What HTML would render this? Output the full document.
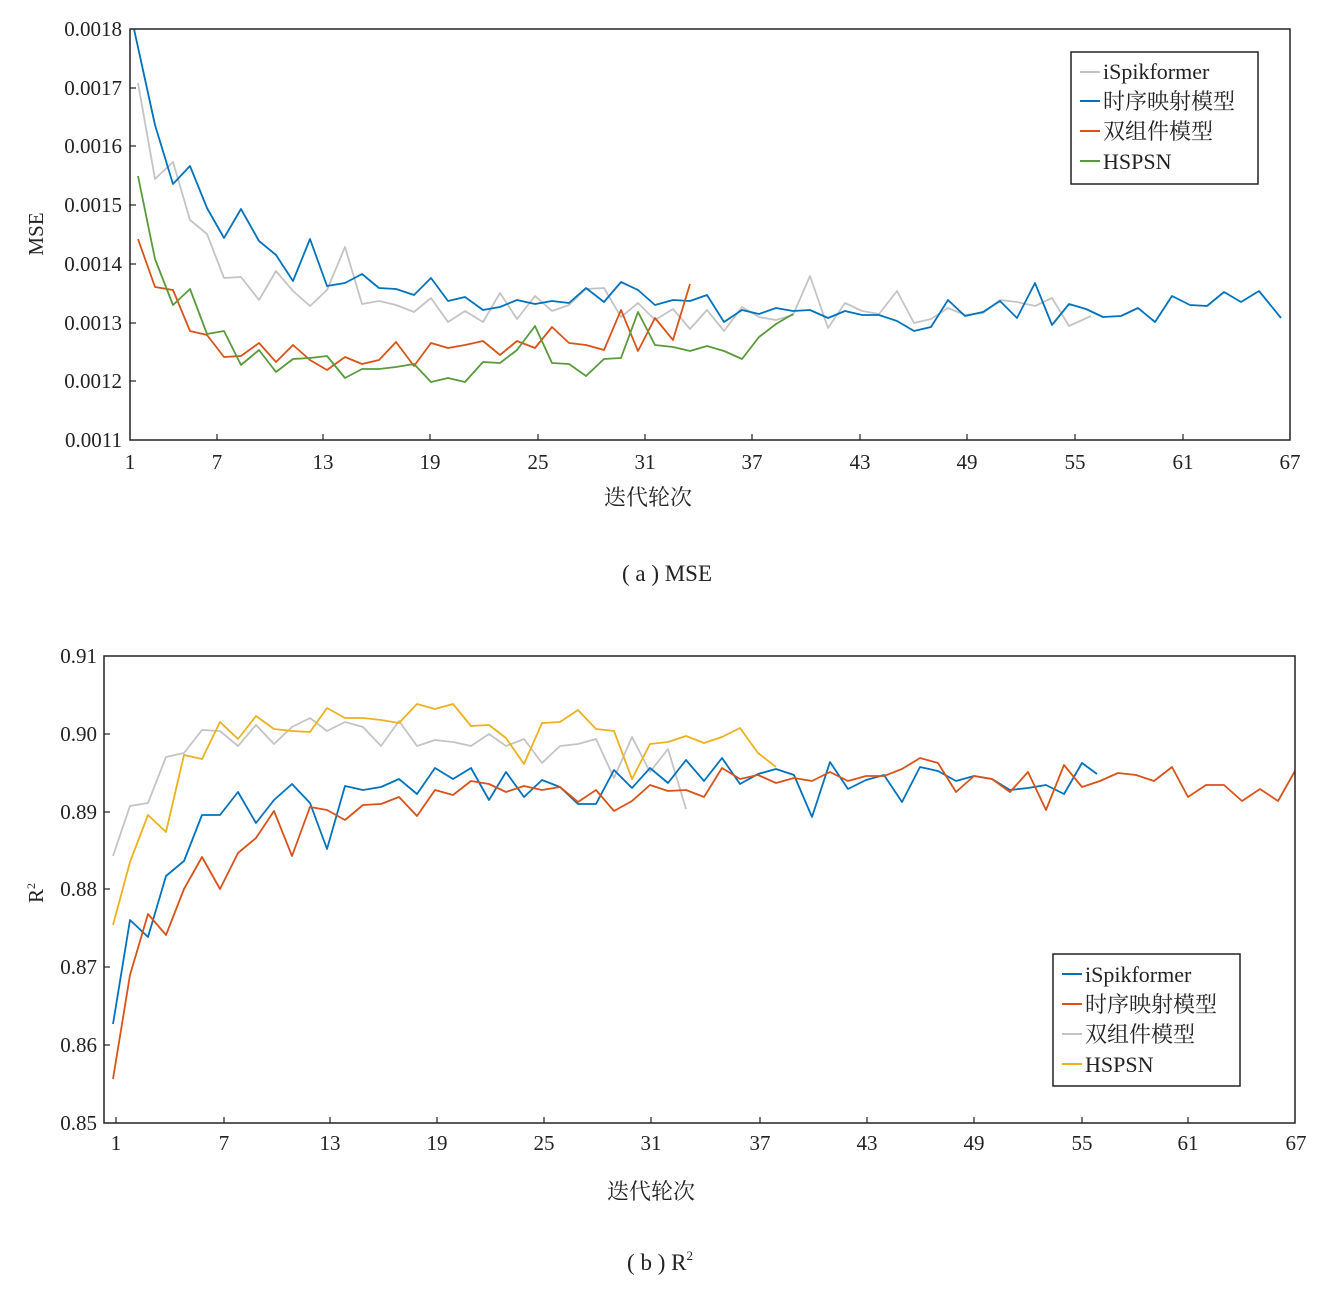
<!DOCTYPE html>
<html><head><meta charset="utf-8"><style>
body{margin:0;background:#fff;}
svg{display:block;font-family:"Liberation Serif","Noto Serif CJK SC",serif;}
</style></head><body>
<svg width="1341" height="1294" viewBox="0 0 1341 1294" xmlns="http://www.w3.org/2000/svg">
<rect width="1341" height="1294" fill="#fff"/>
<!-- Chart A -->
<g fill="none" stroke-width="1.8" stroke-linejoin="round">
<polyline stroke="#c4c4c4" points="138,83 155,179 173,162 190,220 207,234 224,278 241,277 259,300 276,271 293,291 310,306 327,290 345,247 362,304 379,301 396,305 414,312 431,298 448,322 465,311 483,322 500,293 517,319 535,296 552,311 569,305 586,289 604,288 621,317 638,303 655,320 673,309 690,329 707,310 724,331 742,307 759,317 776,320 793,315 810,276 828,328 845,303 862,311 879,314 897,291 914,323 931,319 948,308 965,315 983,313 1000,300 1017,302 1035,306 1052,298 1069,326 1091,316"/>
<polyline stroke="#0072bd" points="134,29 155,125 173,184 190,166 207,208 224,238 241,209 259,241 276,255 293,281 310,239 327,286 345,283 362,274 379,288 396,289 414,295 431,278 448,301 465,297 483,310 500,307 517,300 535,304 552,301 569,303 586,288 604,302 621,282 638,290 655,305 673,300 690,301 707,295 724,322 742,310 759,314 776,308 793,311 810,310 828,318 845,311 862,315 879,315 897,321 914,331 931,327 948,300 965,316 983,312 1000,301 1017,318 1035,283 1052,325 1069,304 1086,309 1103,317 1121,316 1138,308 1155,322 1172,296 1190,305 1207,306 1224,292 1241,302 1259,291 1281,318"/>
<polyline stroke="#d95319" points="138,239 155,287 173,290 190,331 207,335 224,357 241,356 259,343 276,362 293,345 310,360 327,370 345,357 362,364 379,360 396,342 414,366 431,343 448,348 465,345 483,341 500,355 517,341 535,348 552,327 569,343 586,345 604,350 621,310 638,351 655,318 673,340 690,284"/>
<polyline stroke="#5a9a3a" points="138,176 155,259 173,305 190,289 207,334 224,331 241,365 259,350 276,372 293,359 310,358 327,356 345,378 362,369 379,369 396,367 414,364 431,382 448,378 465,382 483,362 500,363 517,350 535,326 552,363 569,364 586,376 604,359 621,358 638,312 655,345 673,347 690,351 707,346 724,351 742,359 759,337 776,324 793,314"/>
</g>
<rect x="130" y="29" width="1160" height="411" fill="none" stroke="#222" stroke-width="1.5"/>
<g stroke="#222" stroke-width="1.2">
<line x1="130" y1="88" x2="136" y2="88"/><line x1="130" y1="146" x2="136" y2="146"/><line x1="130" y1="205" x2="136" y2="205"/><line x1="130" y1="264" x2="136" y2="264"/><line x1="130" y1="323" x2="136" y2="323"/><line x1="130" y1="381" x2="136" y2="381"/>
<line x1="217" y1="440" x2="217" y2="434"/><line x1="323" y1="440" x2="323" y2="434"/><line x1="430" y1="440" x2="430" y2="434"/><line x1="538" y1="440" x2="538" y2="434"/><line x1="645" y1="440" x2="645" y2="434"/><line x1="752" y1="440" x2="752" y2="434"/><line x1="860" y1="440" x2="860" y2="434"/><line x1="967" y1="440" x2="967" y2="434"/><line x1="1075" y1="440" x2="1075" y2="434"/><line x1="1183" y1="440" x2="1183" y2="434"/>
</g>
<g font-size="21" fill="#222" text-anchor="end">
<text x="122" y="36">0.0018</text><text x="122" y="95">0.0017</text><text x="122" y="153">0.0016</text><text x="122" y="212">0.0015</text><text x="122" y="271">0.0014</text><text x="122" y="330">0.0013</text><text x="122" y="388">0.0012</text><text x="122" y="447">0.0011</text>
</g>
<g font-size="21" fill="#222" text-anchor="middle">
<text x="130" y="469">1</text><text x="217" y="469">7</text><text x="323" y="469">13</text><text x="430" y="469">19</text><text x="538" y="469">25</text><text x="645" y="469">31</text><text x="752" y="469">37</text><text x="860" y="469">43</text><text x="967" y="469">49</text><text x="1075" y="469">55</text><text x="1183" y="469">61</text><text x="1290" y="469">67</text>
<text x="648" y="505" font-size="22">迭代轮次</text>
<text x="667" y="581" font-size="23">( a ) MSE</text>
</g>
<text x="0" y="0" font-size="21" fill="#222" text-anchor="middle" transform="translate(43,234) rotate(-90)">MSE</text>
<rect x="1071" y="52" width="187" height="132" fill="#fff" stroke="#222" stroke-width="1.5"/>
<g stroke-width="2"><line x1="1080" y1="72" x2="1100" y2="72" stroke="#c4c4c4"/><line x1="1080" y1="101" x2="1100" y2="101" stroke="#0072bd"/><line x1="1080" y1="131" x2="1100" y2="131" stroke="#d95319"/><line x1="1080" y1="161" x2="1100" y2="161" stroke="#5a9a3a"/></g>
<g font-size="22" fill="#222"><text x="1103" y="79">iSpikformer</text><text x="1103" y="109">时序映射模型</text><text x="1103" y="139">双组件模型</text><text x="1103" y="169">HSPSN</text></g>

<!-- Chart B -->
<g fill="none" stroke-width="1.8" stroke-linejoin="round">
<polyline stroke="#c4c4c4" points="113,856 130,806 148,803 166,757 184,753 202,730 220,731 238,746 256,725 274,744 292,727 310,718 327,731 345,722 363,727 381,746 399,721 417,746 435,740 453,742 471,746 489,734 506,746 524,739 542,763 560,746 578,744 596,739 614,778 632,737 650,772 668,749 686,809"/>
<polyline stroke="#edb120" points="113,925 130,862 148,815 166,832 184,755 202,759 220,722 238,739 256,716 274,729 292,731 310,732 327,708 345,718 363,718 381,720 399,723 417,704 435,709 453,704 471,726 489,725 506,738 524,764 542,723 560,722 578,710 596,729 614,731 632,779 650,744 668,742 686,736 704,743 722,737 740,728 758,753 776,767"/>
<polyline stroke="#0072bd" points="113,1024 130,920 148,937 166,876 184,861 202,815 220,815 238,792 256,823 274,800 292,784 310,803 327,849 345,786 363,790 381,787 399,779 417,794 435,768 453,779 471,768 489,800 506,772 524,797 542,780 560,787 578,804 596,804 614,770 632,788 650,768 668,783 686,760 704,781 722,758 740,784 758,774 776,769 794,775 812,817 830,762 848,789 866,780 884,775 902,802 920,767 938,771 956,781 974,776 992,779 1010,790 1028,788 1046,785 1064,794 1082,763 1097,774"/>
<polyline stroke="#d95319" points="113,1079 130,975 148,914 166,935 184,889 202,857 220,889 238,853 256,838 274,811 292,856 310,807 327,810 345,820 363,805 381,804 399,797 417,816 435,790 453,795 471,781 489,784 506,792 524,786 542,790 560,787 578,802 596,790 614,811 632,801 650,785 668,791 686,790 704,797 722,768 740,779 758,775 776,783 794,778 812,781 830,772 848,781 866,776 884,776 902,769 920,758 938,763 956,792 974,776 992,779 1010,792 1028,772 1046,810 1064,765 1082,787 1100,781 1118,773 1136,775 1154,781 1172,767 1188,797 1206,785 1224,785 1242,801 1260,789 1278,801 1295,771"/>
</g>
<rect x="104" y="656" width="1191" height="467" fill="none" stroke="#222" stroke-width="1.5"/>
<g stroke="#222" stroke-width="1.2">
<line x1="104" y1="734" x2="110" y2="734"/><line x1="104" y1="812" x2="110" y2="812"/><line x1="104" y1="889" x2="110" y2="889"/><line x1="104" y1="967" x2="110" y2="967"/><line x1="104" y1="1045" x2="110" y2="1045"/>
<line x1="116" y1="1123" x2="116" y2="1117"/><line x1="224" y1="1123" x2="224" y2="1117"/><line x1="330" y1="1123" x2="330" y2="1117"/><line x1="437" y1="1123" x2="437" y2="1117"/><line x1="544" y1="1123" x2="544" y2="1117"/><line x1="651" y1="1123" x2="651" y2="1117"/><line x1="760" y1="1123" x2="760" y2="1117"/><line x1="867" y1="1123" x2="867" y2="1117"/><line x1="974" y1="1123" x2="974" y2="1117"/><line x1="1082" y1="1123" x2="1082" y2="1117"/><line x1="1188" y1="1123" x2="1188" y2="1117"/>
</g>
<g font-size="21" fill="#222" text-anchor="end">
<text x="97" y="663">0.91</text><text x="97" y="741">0.90</text><text x="97" y="819">0.89</text><text x="97" y="896">0.88</text><text x="97" y="974">0.87</text><text x="97" y="1052">0.86</text><text x="97" y="1130">0.85</text>
</g>
<g font-size="21" fill="#222" text-anchor="middle">
<text x="116" y="1150">1</text><text x="224" y="1150">7</text><text x="330" y="1150">13</text><text x="437" y="1150">19</text><text x="544" y="1150">25</text><text x="651" y="1150">31</text><text x="760" y="1150">37</text><text x="867" y="1150">43</text><text x="974" y="1150">49</text><text x="1082" y="1150">55</text><text x="1188" y="1150">61</text><text x="1296" y="1150">67</text>
<text x="651" y="1199" font-size="22">迭代轮次</text>
<text x="660" y="1270" font-size="23">( b ) R<tspan font-size="13" dy="-10">2</tspan></text>
</g>
<text x="0" y="0" font-size="21" fill="#222" text-anchor="middle" transform="translate(43,893) rotate(-90)">R<tspan font-size="12" dy="-8">2</tspan></text>
<rect x="1053" y="954" width="187" height="132" fill="#fff" stroke="#222" stroke-width="1.5"/>
<g stroke-width="2"><line x1="1062" y1="974" x2="1082" y2="974" stroke="#0072bd"/><line x1="1062" y1="1004" x2="1082" y2="1004" stroke="#d95319"/><line x1="1062" y1="1034" x2="1082" y2="1034" stroke="#c4c4c4"/><line x1="1062" y1="1064" x2="1082" y2="1064" stroke="#edb120"/></g>
<g font-size="22" fill="#222"><text x="1085" y="982">iSpikformer</text><text x="1085" y="1012">时序映射模型</text><text x="1085" y="1042">双组件模型</text><text x="1085" y="1072">HSPSN</text></g>
</svg>
</body></html>
